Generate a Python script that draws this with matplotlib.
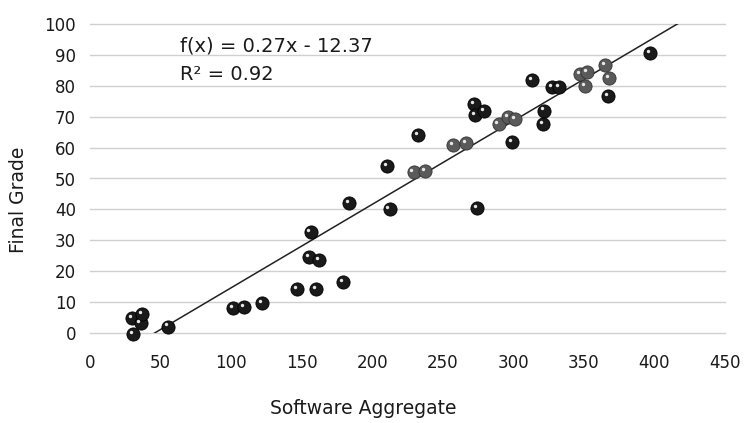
import numpy as np
import matplotlib
matplotlib.use("Agg")
import matplotlib.pyplot as plt
from matplotlib.transforms import offset_copy

# dark points
x_dark = [29.8, 30.6, 35.8, 37.2, 55.5, 101.2, 109.2, 122.1, 146.9, 160.4,
          156.4, 155.3, 162.4, 179.6, 183.4, 210.4, 212.3, 232.3, 272.3, 273.0,
          279.5, 274.1, 299.3, 313.4, 321.2, 321.9, 327.5, 332.5, 367.3, 397.0]
y_dark = [4.8, -0.3, 3.2, 6.2, 2.1, 8.0, 8.3, 9.6, 14.1, 14.1,
          32.7, 24.5, 23.7, 16.4, 42.0, 54.0, 40.2, 64.1, 74.0, 70.6,
          71.8, 40.3, 61.8, 81.9, 67.5, 72.0, 79.6, 79.7, 76.6, 90.7]
# lighter (grey) points near the trend line
x_grey = [229.3, 237.5, 257.1, 266.5, 289.5, 296.5, 301.1, 347.3, 352.3, 351.1,
          365.2, 367.9]
y_grey = [52.0, 52.5, 60.9, 61.5, 67.6, 69.8, 69.3, 83.9, 84.5, 79.9,
          86.8, 82.5]

slope = 0.27
intercept = -12.37
eq_text = "f(x) = 0.27x - 12.37"
r2_text = "R² = 0.92"

x_ticks = [0, 50, 100, 150, 200, 250, 300, 350, 400, 450]
y_ticks = [0, 10, 20, 30, 40, 50, 60, 70, 80, 90, 100]

fig = plt.figure(figsize=(7.46, 4.23), dpi=100)
ax = fig.add_axes([90 / 746, 1 - 333 / 423, 635 / 746, 309 / 423])

for y in y_ticks:
    ax.axhline(y, color="#d0d0d0", lw=1.0, zorder=0, clip_on=False)

xs = np.array([45.0, 425.0])
ax.plot(xs, slope * xs + intercept, color="#222222", lw=1.1, zorder=2)

hl = offset_copy(ax.transData, fig=fig, x=-2.2, y=2.2, units="dots")
ax.scatter(x_dark, y_dark, s=90, color="#1a1a1a", edgecolors="#000000",
           linewidths=0.6, zorder=3, clip_on=False)
ax.scatter(x_grey, y_grey, s=90, color="#5a5a5a", edgecolors="#333333",
           linewidths=0.6, zorder=3, clip_on=False)
ax.scatter(x_dark + x_grey, y_dark + y_grey, s=6, color="#e8e8e8",
           linewidths=0, zorder=4, clip_on=False, transform=hl)

ax.text(64, 93, eq_text, fontsize=14, va="center", ha="left", color="#1a1a1a")
ax.text(64, 83.5, r2_text, fontsize=14, va="center", ha="left", color="#1a1a1a")

ax.set_xlim(0, 450)
ax.set_ylim(0, 100)
ax.set_xticks(x_ticks)
ax.set_yticks(y_ticks)
ax.tick_params(axis="both", length=0, labelsize=12, colors="#1a1a1a")
ax.tick_params(axis="x", pad=15)
ax.tick_params(axis="y", pad=10)
for s in ax.spines.values():
    s.set_visible(False)

ax.set_xlabel("Software Aggregate", fontsize=13.5, color="#1a1a1a")
ax.set_ylabel("Final Grade", fontsize=13.5, color="#1a1a1a")
ax.xaxis.set_label_coords(0.43, -0.243)
ax.yaxis.set_label_coords(-0.113, 0.43)
ax.xaxis.label.set_va("center")
ax.yaxis.label.set_va("center")

fig.savefig("out.png", dpi=100)
